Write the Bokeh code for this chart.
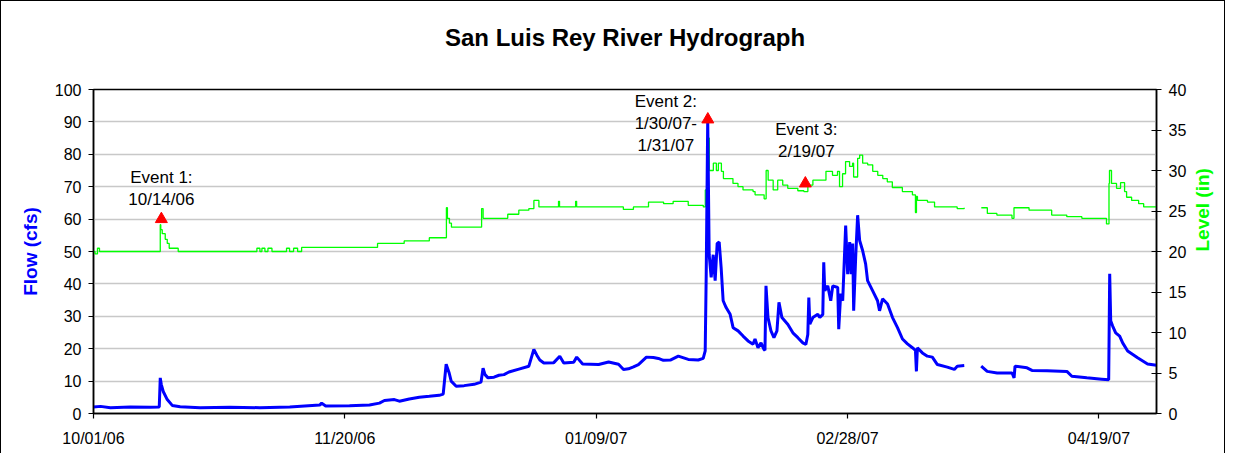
import math
from bokeh.plotting import figure
from bokeh.models import Range1d, LinearAxis, FixedTicker, Title
from bokeh.embed import file_html
from bokeh.resources import INLINE
from bokeh.core.properties import value

# ---------------- data ----------------
chart_title = "San Luis Rey River Hydrograph"
x_tick_days = [0, 50, 100, 150, 200]          # days after 10/01/06
x_tick_labels = ["10/01/06", "11/20/06", "01/09/07", "02/28/07", "04/19/07"]
x_end_day = 211.45

flow_day = [0, 1.39, 3.37, 7.33, 11.30, 13.08, 13.28, 13.48, 13.87, 14.67, 15.66, 17.24,
            21.21, 27.15, 33.10, 39.04, 44.99, 45.38, 46.18, 50.93, 54.90, 56.88, 57.87,
            59.85, 60.84, 62.82, 64.80, 66.79, 68.77, 69.56, 70.15, 70.75, 71.15, 72.14,
            73.72, 75.70, 77.09, 77.49, 77.88, 78.48, 79.67, 80.66, 81.65, 82.64, 84.62,
            86.60, 87.59, 88.19, 88.78, 89.58, 91.56, 92.75, 93.54, 95.52, 96.12, 97.30,
            100.48, 102.46, 104.44, 105.43, 106.42, 107.41, 108.40, 109.99, 111.38, 112.37,
            113.36, 114.74, 116.33, 118.31, 120.29, 121.28, 121.68, 121.88, 122.18, 122.47,
            122.87, 123.27, 123.66, 124.06, 124.46, 124.85, 125.25, 125.84, 126.64, 127.23,
            128.22, 129.21, 130.20, 131.19, 131.59, 132.18, 132.78, 133.37, 133.57, 133.77,
            134.17, 134.76, 135.35, 135.95, 136.35, 136.94, 138.13, 139.12, 140.11, 141.10,
            141.70, 142.09, 142.29, 142.49, 143.09, 144.08, 144.47, 145.07, 145.26, 145.46,
            146.06, 146.65, 147.05, 148.04, 148.24, 148.63, 149.03, 149.62, 150.02, 150.42,
            150.71, 151.01, 151.21, 151.61, 152.00, 152.40, 152.99, 153.59, 153.98, 154.97,
            155.96, 156.36, 156.96, 157.95, 158.94, 159.93, 160.92, 161.91, 162.90, 163.50,
            163.69, 163.89, 164.88, 165.87, 166.86, 167.86, 169.84, 171.23, 171.82, 173.21,
            174.5, 176.58, 177.77, 179.75, 182.72, 183.12, 183.31, 185.69, 186.68, 189.66,
            193.62, 194.61, 197.58, 200.56, 201.94, 202.14, 202.34, 202.73, 203.33, 204.12,
            204.72, 205.71, 207.69, 209.67, 211.45]
flow_cfs = [2.0, 2.2, 1.8, 2.0, 1.9, 2.0, 11.0, 9.0, 6.8, 4.3, 2.5, 2.1,
            1.8, 1.9, 1.8, 2.0, 2.6, 3.2, 2.3, 2.4, 2.6, 3.2, 4.0,
            4.3, 3.8, 4.5, 5.0, 5.3, 5.6, 6.0, 15.2, 12.5, 10.0, 8.4,
            8.6, 9.0, 9.7, 14.0, 12.0, 11.0, 11.2, 11.8, 12.0, 12.8, 13.7,
            14.6, 19.8, 18.0, 16.5, 15.6, 15.7, 17.7, 15.6, 15.8, 17.4, 15.3,
            15.1, 15.9, 15.2, 13.6, 13.8, 14.4, 15.1, 17.4, 17.3, 17.0,
            16.4, 16.5, 17.7, 16.7, 16.5, 17.0, 19.3, 43.0, 90.7, 49.0,
            42.0, 49.0, 41.0, 52.5, 52.9, 45.0, 34.8, 32.7, 30.6, 26.5,
            25.5, 23.9, 22.4, 21.4, 23.0, 20.3, 21.8, 19.8, 19.5, 39.4,
            29.6, 25.5, 23.4, 25.5, 34.3, 29.6, 27.5, 24.9, 23.4, 21.8,
            21.3, 24.4, 35.8, 27.6, 29.6, 30.6, 29.6, 30.6, 46.7, 37.9,
            39.4, 34.8, 39.4, 38.9, 26.0, 37.0, 34.8, 58.0, 43.0, 52.9,
            43.0, 52.5, 31.7, 48.2, 61.2, 53.4, 50.3, 46.2, 41.0, 37.9,
            34.8, 31.7, 35.4, 33.8, 29.6, 26.5, 23.0, 21.5, 20.3, 19.5,
            13.0, 20.3, 18.7, 17.7, 17.4, 15.1, 14.3, 13.6, 14.6, 14.8,
            float("nan"), 14.6, 13.0, 12.5, 12.5, 11.0, 14.6, 14.1, 13.3, 13.2,
            13.0, 11.5, 11.0, 10.6, 10.4, 43.1, 28.6, 27.0, 24.9, 23.9,
            21.8, 19.3, 17.2, 15.3, 14.9]

level_day = [0, 0.3, 0.79, 1.19, 13.28, 13.38, 13.67, 14.27, 14.67, 15.06, 16.65, 16.85,
             32.5, 33.1, 33.5, 34.1, 34.7, 35.5, 38.4, 39.0, 39.8, 40.6, 41.4,
             56.5, 61.8, 66.8, 70.2, 70.4, 70.8, 71.2, 77.2, 77.5, 77.9, 82.4,
             84.6, 86.6, 87.6, 88.6, 92.5, 92.7, 93.1, 95.9, 96.1, 96.5, 105.4,
             107.4, 110.4, 113.4, 115.3, 118.3, 121.3, 121.7, 122.1, 122.5, 123.3,
             123.9, 124.3, 124.9, 125.3, 127.2, 128.2, 129.2, 131.2, 131.6, 133.4,
             133.8, 134.2, 135.2, 136.1, 137.1, 138.1, 140.1, 141.3, 142.1, 143.1,
             145.1, 145.7, 147.0, 148.0, 148.4, 149.0, 149.6, 150.4, 151.0, 151.2,
             152.0, 152.4, 153.0, 154.0, 155.0, 156.0, 157.0, 157.9, 158.9, 160.9,
             162.9, 163.5, 163.7, 163.9, 165.9, 167.3, 171.8, 173.2, 174.5, 176.6,
             177.8, 179.7, 182.7, 183.1, 186.1, 190.6, 193.6, 196.6, 201.5, 202.0,
             202.1, 202.5, 203.5, 204.3, 205.1, 205.5, 206.5, 207.9, 208.9, 211.45]
level_in = [20.0, 19.7, 20.4, 20.0, 23.3, 22.7, 22.2, 21.5, 21.0, 20.4, 20.4, 20.0,
            20.4, 20.0, 20.4, 20.0, 20.4, 20.0, 20.4, 20.0, 20.4, 20.0, 20.5,
            21.0, 21.3, 21.7, 25.4, 24.1, 23.5, 23.0, 25.3, 24.1, 24.1, 24.6,
            25.1, 25.3, 26.3, 25.5, 26.2, 25.5, 25.5, 26.2, 25.5, 25.5, 25.2,
            25.5, 26.1, 25.9, 26.2, 25.7, 25.5, 27.6, 34.0, 30.0, 30.9,
            30.0, 30.9, 29.9, 29.0, 28.4, 28.0, 27.6, 27.4, 27.0, 26.5,
            30.0, 28.8, 27.6, 28.8, 28.2, 27.8, 27.5, 27.4, 28.2, 28.8,
            28.8, 29.9, 29.4, 29.9, 28.0, 29.6, 31.1, 30.5, 30.9, 29.2,
            31.5, 31.9, 30.9, 30.7, 29.9, 29.4, 29.0, 28.6, 27.9, 27.4,
            27.0, 24.8, 26.8, 26.3, 26.1, 25.5, 25.3, 25.4, float("nan"), 25.4,
            24.7, 24.5, 24.1, 25.4, 25.1, 24.5, 24.3, 24.1, 23.4, 28.4,
            30.0, 28.4, 27.8, 28.5, 27.4, 26.7, 26.3, 25.9, 25.5, 25.5]

event_day = [13.5, 122.2, 141.6]
event_level = [24.0, 36.3, 28.4]
event_lines = [["Event 1:", "10/14/06"],
               ["Event 2:", "1/30/07-", "1/31/07"],
               ["Event 3:", "2/19/07"]]

# ---------------- style ----------------
FONT = "Liberation Sans"
BLUE = "#0000FF"
GREEN = "#00FF00"

p = figure(width=1225, height=453, output_backend="svg", toolbar_location=None,
           x_range=Range1d(0, x_end_day), y_range=Range1d(0, 100),
           min_border_left=92, min_border_right=66, min_border_top=88, min_border_bottom=41)
p.styles = {"border-left": "1px solid black", "border-top": "1px solid black",
            "border-right": "1px solid black"}
p.extra_y_ranges = {"level": Range1d(0, 40)}

p.title = Title(text=chart_title, align="center", offset=4,
                text_font=FONT, text_font_size="24px", text_font_style="bold",
                text_color="black", standoff=10)
# blank spacer between the title and the plot frame (lifts the title)
p.add_layout(Title(text=" ", text_font=FONT, text_font_size="24px", standoff=5), "above")

p.outline_line_color = "black"
p.outline_line_width = 1.5
p.background_fill_color = "white"
p.border_fill_color = "white"
p.xgrid.grid_line_color = None
p.ygrid.grid_line_color = "#C8C8C8"
p.ygrid.grid_line_width = 1.5

# x axis
xa = p.xaxis[0]
xa.ticker = FixedTicker(ticks=x_tick_days)
xa.major_label_overrides = {d: lab for d, lab in zip(x_tick_days, x_tick_labels)}
xa.minor_tick_line_color = None
xa.major_tick_in = 0
xa.major_tick_out = 5
xa.axis_line_width = 1.5
xa.major_tick_line_width = 1.2
xa.major_label_text_font = FONT
xa.major_label_text_font_size = "16px"
xa.major_label_text_color = "black"
xa.major_label_standoff = 11

# left axis
ya = p.yaxis[0]
ya.ticker = FixedTicker(ticks=list(range(0, 101, 10)))
ya.minor_tick_line_color = None
ya.major_tick_in = 0
ya.major_tick_out = 5
ya.axis_line_width = 1.5
ya.major_tick_line_width = 1.2
ya.major_label_text_font = FONT
ya.major_label_text_font_size = "16px"
ya.major_label_text_color = "black"
ya.major_label_standoff = 7
ya.axis_label = "Flow (cfs)"
ya.axis_label_text_font = FONT
ya.axis_label_text_font_size = "19px"
ya.axis_label_text_font_style = "bold"
ya.axis_label_text_color = BLUE
ya.axis_label_standoff = 11

# right axis
ra = LinearAxis(y_range_name="level", ticker=FixedTicker(ticks=list(range(0, 41, 5))))
ra.minor_tick_line_color = None
ra.major_tick_in = 5
ra.major_tick_out = 5
ra.axis_line_width = 1.5
ra.major_tick_line_width = 1.2
ra.major_label_text_font = FONT
ra.major_label_text_font_size = "16px"
ra.major_label_text_color = "black"
ra.major_label_standoff = 7
ra.axis_label = "Level (in)"
ra.axis_label_text_font = FONT
ra.axis_label_text_font_size = "19px"
ra.axis_label_text_font_style = "bold"
ra.axis_label_text_color = GREEN
ra.axis_label_standoff = 13
ra.axis_label_orientation = math.pi / 2
p.add_layout(ra, "right")

# series
p.step(level_day, level_in, mode="after", y_range_name="level",
       line_color=GREEN, line_width=1.3)
p.line(flow_day, flow_cfs, line_color=BLUE, line_width=3)

# event markers
p.scatter(event_day, event_level, y_range_name="level", marker="triangle",
          size=12, fill_color="#FF0000", line_color="#FF0000")

label_dx = [0, -42, 1]
label_top_dy = [-42, -18, -54]
line_step = 22
for d, lv, lines, dx, dy in zip(event_day, event_level, event_lines, label_dx, label_top_dy):
    for i, t in enumerate(lines):
        p.text([d], [lv], text=[t], y_range_name="level", x_offset=dx, y_offset=dy + i * line_step,
               text_align="center", text_baseline="middle", text_font=value(FONT),
               text_font_size="17px", text_color="black")

open("out.html", "w").write(file_html(p, INLINE))
